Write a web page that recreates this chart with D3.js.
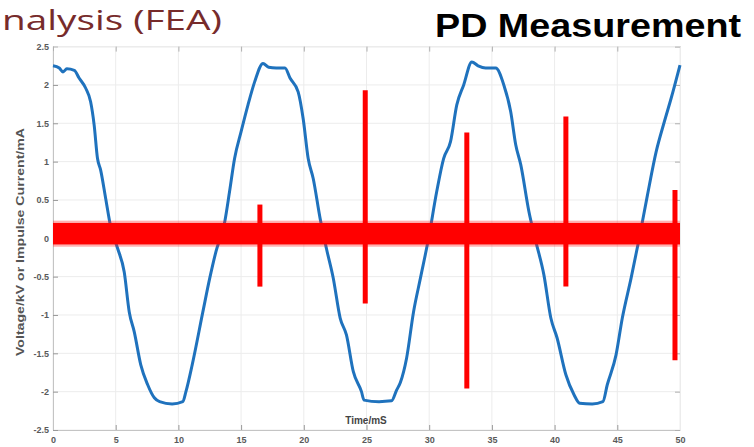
<!DOCTYPE html>
<html><head><meta charset="utf-8">
<script src="https://cdn.jsdelivr.net/npm/d3@7"></script>
<style>
html,body{margin:0;padding:0;background:#fff;}
svg{display:block;}
</style>
</head><body>
<svg id="c" width="754" height="447"></svg>
<script>
// ---- data ----
const xTicks = [0,5,10,15,20,25,30,35,40,45,50];
const yTicks = [-2.5,-2,-1.5,-1,-0.5,0,0.5,1,1.5,2,2.5];
const yTickLabels = ["-2.5","-2","-1.5","-1","-0.5","0","0.5","1","1.5","2","2.5"];

// voltage waveform (time in ms, voltage in kV)
const voltT = [0,0.5,0.8,1.1,1.7,2.08,2.6,3.0,3.28,3.55,3.8,4.2,4.6,5.15,5.68,6.08,6.48,7.0,7.55,8.08,8.5,9.5,10.35,10.6,11.1,11.95,12.5,13.0,13.7,14.08,14.48,15.0,15.55,16.08,16.75,17.2,17.8,18.5,18.9,19.55,19.95,20.35,20.75,21.3,21.8,22.35,22.9,23.4,23.95,24.6,24.8,26.0,27.0,27.4,27.7,28.2,28.75,29.3,29.95,30.6,31.15,31.7,32.2,32.75,33.4,33.9,34.5,35.3,35.95,36.5,36.9,37.3,37.95,38.5,39.15,39.7,40.2,40.9,41.55,42.0,43.0,43.85,44.2,44.9,45.4,46.1,46.75,47.4,48.1,48.75,49.3,50];
const voltV = [2.25,2.22,2.17,2.21,2.19,2.09,1.96,1.78,1.48,1.04,0.89,0.52,0.15,-0.13,-0.44,-0.96,-1.22,-1.65,-1.91,-2.08,-2.13,-2.16,-2.13,-2.0,-1.65,-0.96,-0.52,-0.17,0.22,0.61,1.04,1.39,1.74,2.04,2.28,2.23,2.22,2.22,2.09,1.91,1.56,1.04,0.78,0.26,-0.13,-0.52,-1.04,-1.26,-1.74,-2.0,-2.11,-2.13,-2.12,-1.98,-1.88,-1.56,-0.96,-0.52,0.0,0.61,1.04,1.26,1.74,2.0,2.3,2.25,2.22,2.22,2.0,1.65,1.22,0.96,0.35,-0.04,-0.48,-1.04,-1.3,-1.78,-2.04,-2.15,-2.16,-2.13,-1.91,-1.52,-1.04,-0.52,0.0,0.56,1.13,1.52,1.83,2.26];

// background noise band of the impulse current (mA)
const noiseT = [0,50];
const noiseCoreLow = -0.08, noiseCoreHigh = 0.2;
const noiseFuzzLow = -0.11, noiseFuzzHigh = 0.23;

// partial-discharge pulses (time ms, top mA, bottom mA)
const pulseT = [16.5,24.9,33.0,40.9,49.6];
const pulseTop = [0.44,1.93,1.38,1.59,0.63];
const pulseBottom = [-0.63,-0.85,-1.96,-0.63,-1.59];

// ---- drawing ----
const svg = d3.select("#c");
const x = d3.scaleLinear().domain([0,50]).range([53,680]);
const y = d3.scaleLinear().domain([-2.5,2.5]).range([430,46.6]);

// titles
svg.append("text").attr("x",2).attr("y",30)
  .attr("font-family","'Open Sans', Lato, sans-serif").attr("font-size",27.5)
  .attr("fill","#772b2b").attr("textLength",220).attr("lengthAdjust","spacingAndGlyphs")
  .text("nalysis (FEA)");
svg.append("text").attr("x",435).attr("y",37)
  .attr("font-family","'Liberation Sans', Arial, sans-serif").attr("font-size",33).attr("font-weight","bold")
  .attr("fill","#000").attr("textLength",306).attr("lengthAdjust","spacingAndGlyphs")
  .text("PD Measurement");

// grid
const g = svg.append("g");
g.selectAll("line.hg").data(yTicks).join("line")
  .attr("x1",x(0)).attr("x2",x(50)).attr("y1",d=>y(d)).attr("y2",d=>y(d))
  .attr("stroke","#ececec").attr("stroke-width",1);
g.selectAll("line.vg").data(xTicks).join("line")
  .attr("y1",y(-2.5)).attr("y2",y(2.5)).attr("x1",d=>x(d)).attr("x2",d=>x(d))
  .attr("stroke","#ececec").attr("stroke-width",1);

// axes
const xAxis = d3.axisBottom(x).tickValues(xTicks).tickSize(-5).tickPadding(7).tickFormat(d3.format("d"));
const yAxis = d3.axisLeft(y).tickValues(yTicks).tickSize(-5).tickPadding(4).tickFormat((d,i)=>yTickLabels[i]);
const ax = svg.append("g").attr("transform",`translate(0,${y(-2.5)})`).call(xAxis);
const ay = svg.append("g").attr("transform",`translate(${x(0)},0)`).call(yAxis);
const axTop = svg.append("g").attr("transform",`translate(0,${y(2.5)})`).call(d3.axisTop(x).tickValues(xTicks).tickSize(-5).tickFormat(""));
const ayR = svg.append("g").attr("transform",`translate(${x(50)},0)`).call(d3.axisRight(y).tickValues(yTicks).tickSize(-5).tickFormat(""));
[ax,ay].forEach(a=>{
  a.select(".domain").attr("stroke","#c4c4c4");
  a.selectAll(".tick line").attr("stroke","#9a9a9a");
  a.selectAll(".tick text").attr("font-family","'Liberation Sans', Arial, sans-serif")
   .attr("font-size",9).attr("font-weight","bold").attr("fill","#5a5a5a");
});
[axTop,ayR].forEach(a=>{
  a.select(".domain").attr("stroke","#ececec");
  a.selectAll(".tick line").attr("stroke","#b0b0b0");
});

// voltage line
const vData = voltT.map((t,i)=>[t,voltV[i]]);
svg.append("path").datum(vData)
  .attr("d",d3.line().x(d=>x(d[0])).y(d=>y(d[1])).curve(d3.curveMonotoneX))
  .attr("fill","none").attr("stroke","#1f72bd").attr("stroke-width",3)
  .attr("stroke-linejoin","round");

// noise band
svg.append("rect").attr("x",x(noiseT[0])).attr("width",x(noiseT[1])-x(noiseT[0]))
  .attr("y",y(noiseFuzzHigh)).attr("height",y(noiseFuzzLow)-y(noiseFuzzHigh))
  .attr("fill","#ff2020").attr("opacity",0.35);
svg.append("rect").attr("x",x(noiseT[0])).attr("width",x(noiseT[1])-x(noiseT[0]))
  .attr("y",y(noiseCoreHigh)).attr("height",y(noiseCoreLow)-y(noiseCoreHigh))
  .attr("fill","#ff0000");

// pulses
svg.selectAll("line.pulse").data(pulseT).join("line")
  .attr("x1",d=>x(d)).attr("x2",d=>x(d))
  .attr("y1",(d,i)=>y(pulseTop[i])).attr("y2",(d,i)=>y(pulseBottom[i]))
  .attr("stroke","#ff0000").attr("stroke-width",5);

// axis labels
svg.append("text").attr("transform","translate(24,242) rotate(-90)")
  .attr("text-anchor","middle").attr("font-family","'Liberation Sans', Arial, sans-serif")
  .attr("font-size",10.5).attr("font-weight","bold").attr("fill","#555")
  .attr("textLength",228).attr("lengthAdjust","spacingAndGlyphs")
  .text("Voltage/kV or Impulse Current/mA");
svg.append("text").attr("x",366).attr("y",424)
  .attr("text-anchor","middle").attr("font-family","'Liberation Sans', Arial, sans-serif")
  .attr("font-size",10).attr("font-weight","bold").attr("fill","#444")
  .text("Time/mS");
</script>
</body></html>
